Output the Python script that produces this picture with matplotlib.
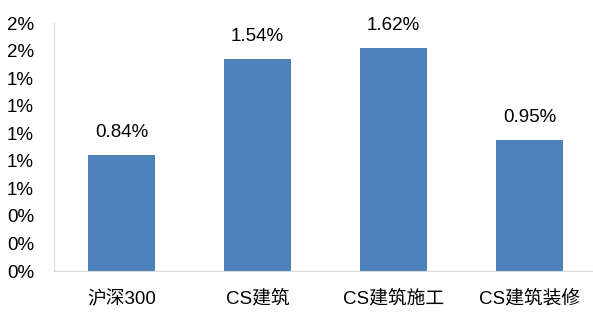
import matplotlib.pyplot as plt
from matplotlib.ticker import FuncFormatter, MultipleLocator

plt.rcParams['font.family'] = ['Liberation Sans', 'Noto Sans CJK SC']

categories = ['沪深300', 'CS建筑', 'CS建筑施工', 'CS建筑装修']
values = [0.84, 1.54, 1.62, 0.95]  # %

fig = plt.figure(figsize=(5.93, 3.2), dpi=100)
ax = fig.add_axes([53.5 / 593, 49 / 320, 544 / 593, 248 / 320])

x = range(len(categories))
ax.bar(x, values, width=0.49, color='#4f81bd')
for xi, v in zip(x, values):
    ax.text(xi, v + 0.1, f'{v:.2f}%', ha='center', va='bottom', fontsize=13.5)

ax.set_xlim(-0.5, len(categories) - 0.5)
ax.set_ylim(0, 1.8)
ax.yaxis.set_major_locator(MultipleLocator(0.2))
ax.yaxis.set_major_formatter(FuncFormatter(lambda v, _: f'{v:.0f}%'))
ax.set_xticks(list(x))
ax.set_xticklabels(categories)
ax.tick_params(axis='both', length=0, labelsize=13.5)
ax.tick_params(axis='x', pad=14)
ax.tick_params(axis='y', pad=14)

for side in ['top', 'right']:
    ax.spines[side].set_visible(False)
for side in ['left', 'bottom']:
    ax.spines[side].set_color('#d9d9d9')

fig.savefig('out.png', dpi=100)
